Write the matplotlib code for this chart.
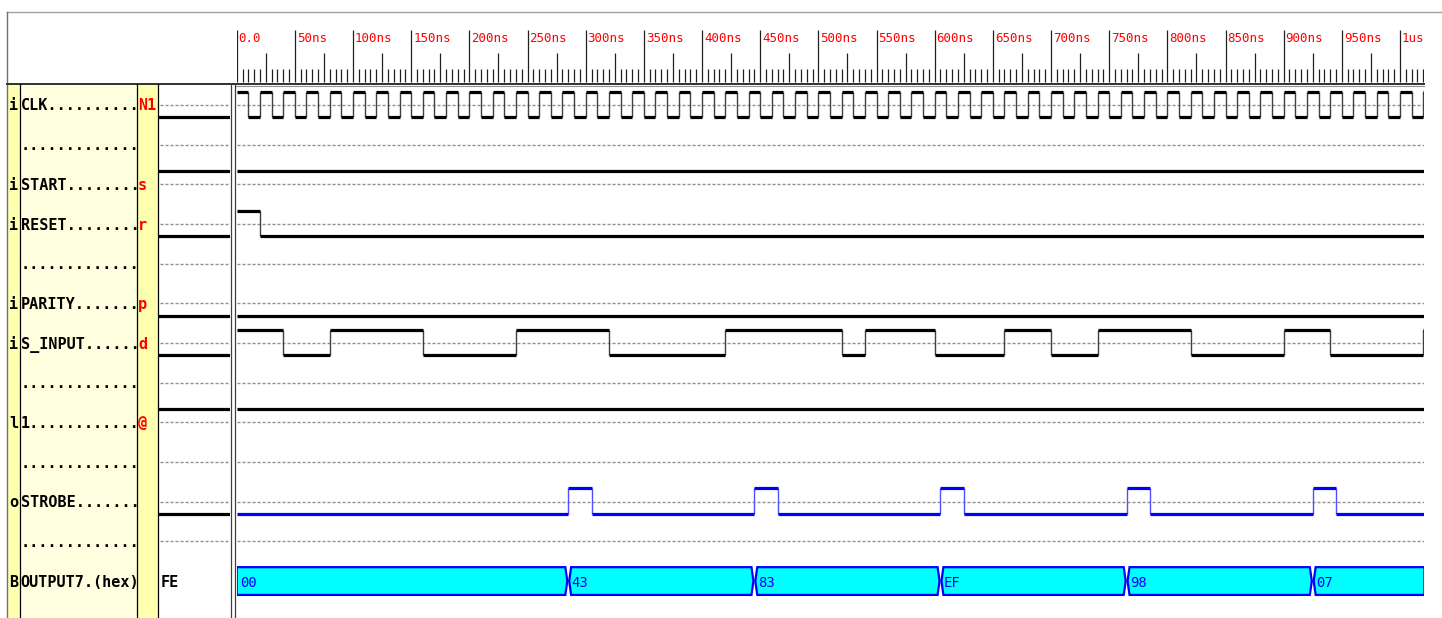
import matplotlib
matplotlib.use("Agg")
import matplotlib.pyplot as plt
from matplotlib.patches import Rectangle, Polygon

# ---------------- waveform data ----------------
row_types = ['i', '', 'i', 'i', '', 'i', 'i', '', 'l', '', 'o', '', 'B']
row_names = ['CLK', '', 'START', 'RESET', '', 'PARITY', 'S_INPUT', '', '1', '', 'STROBE', '', 'OUTPUT7.(hex)']
row_keys = ['N1', '', 's', 'r', '', 'p', 'd', '', '@', '', '', '', '']

# value at the cursor (left value column)
cursor_rows = [0, 2, 3, 5, 6, 8, 10]
cursor_vals = [0, 1, 0, 0, 0, 1, 0]
cursor_bus = 'FE'

# transitions in ns, and the level from each one on
clk_t = [0, 10, 20, 30, 40, 50, 60, 70, 80, 90, 100, 110, 120, 130, 140, 150, 160, 170, 180, 190,
         200, 210, 220, 230, 240, 250, 260, 270, 280, 290, 300, 310, 320, 330, 340, 350, 360, 370,
         380, 390, 400, 410, 420, 430, 440, 450, 460, 470, 480, 490, 500, 510, 520, 530, 540, 550,
         560, 570, 580, 590, 600, 610, 620, 630, 640, 650, 660, 670, 680, 690, 700, 710, 720, 730,
         740, 750, 760, 770, 780, 790, 800, 810, 820, 830, 840, 850, 860, 870, 880, 890, 900, 910,
         920, 930, 940, 950, 960, 970, 980, 990, 1000, 1010, 1020]
clk_v = [1, 0] * 51 + [1]

start_t = [0]
start_v = [1]
reset_t = [0, 20]
reset_v = [1, 0]
parity_t = [0]
parity_v = [0]
sin_t = [0, 40, 80, 160, 240, 320, 420, 520, 540, 600, 660, 700, 740, 820, 900, 940, 1020]
sin_v = [1, 0, 1, 0, 1, 0, 1, 0, 1, 0, 1, 0, 1, 0, 1, 0, 1]
l1_t = [0]
l1_v = [1]
strobe_t = [0, 285, 305, 445, 465, 605, 625, 765, 785, 925, 945]
strobe_v = [0, 1, 0, 1, 0, 1, 0, 1, 0, 1, 0]
bus_t = [0, 285, 445, 605, 765, 925]
bus_v = ['00', '43', '83', 'EF', '98', '07']

ruler_labels = ['0.0', '50ns', '100ns', '150ns', '200ns', '250ns', '300ns', '350ns', '400ns',
                '450ns', '500ns', '550ns', '600ns', '650ns', '700ns', '750ns', '800ns', '850ns',
                '900ns', '950ns', '1us']

# ---------------- layout ----------------
W, H = 1442, 618
T_END = 1021
ROW0, PITCH = 105, 39.67
HI, LO = -0.34, 0.31
MONO = 'DejaVu Sans Mono'

fig = plt.figure(figsize=(W / 100, H / 100), dpi=100)


def px_axes(x0, y0, x1, y1):
    a = fig.add_axes([x0 / W, 1 - y1 / H, (x1 - x0) / W, (y1 - y0) / H])
    a.set_axis_off()
    a.patch.set_alpha(0)
    return a


# frame in pixel units
frame = fig.add_axes([0, 0, 1, 1])
frame.set_xlim(0, W)
frame.set_ylim(H, 0)
frame.set_axis_off()

frame.add_patch(Rectangle((7, 84), 13, H - 84, fc='#FFFFB0', ec='none'))
frame.add_patch(Rectangle((20, 84), 117, H - 84, fc='#FFFFE0', ec='none'))
frame.add_patch(Rectangle((137, 84), 21, H - 84, fc='#FFFFB0', ec='none'))
frame.plot([7, W], [12, 12], color='#A0A0A0', lw=1)
frame.plot([7, 7], [12, H], color='#707070', lw=1)
frame.plot([7, 1424], [83.5, 83.5], color='#303030', lw=1.4)
frame.plot([236, 1424], [85.5, 85.5], color='#909090', lw=0.8)
for x in [20, 137, 158]:
    frame.plot([x, x], [84, H], color='black', lw=0.9)
for x in [230.7, 235.3]:
    frame.plot([x, x], [84, H], color='#404040', lw=0.9)

for i in range(len(row_names)):
    y = ROW0 + PITCH * i
    frame.text(13.5, y + 5.5, row_types[i], ha='center', va='baseline',
               family=MONO, fontsize=10.9, fontweight='bold', color='black')
    frame.text(20.5, y + 5.5, row_names[i].ljust(13, '.'), ha='left', va='baseline',
               family=MONO, fontsize=10.9, fontweight='bold', color='black')
    frame.text(138, y + 5.5, row_keys[i], ha='left', va='baseline',
               family=MONO, fontsize=10.9, fontweight='bold', color='#FF0000')

# ruler
ruler = px_axes(236.7, 12, 236.7 + T_END * 1.1633, 86)
ruler.set_xlim(0, T_END)
ruler.set_ylim(86, 12)
minor = [t for t in range(0, T_END, 5) if t % 25]
medium = [t for t in range(25, T_END, 50)]
major = [t for t in range(0, T_END, 50)]
ruler.vlines(minor, 69, 82, colors='#202020', lw=0.9)
ruler.vlines(medium, 53, 82, colors='#202020', lw=0.9)
ruler.vlines(major, 30, 82, colors='#202020', lw=0.9)
for t, lab in zip(major, ruler_labels):
    ruler.text(t + 1.7, 39, lab, ha='left', va='center', family=MONO,
               fontsize=9, color='#FF0000')

# value column
rows = [ROW0 + PITCH * i for i in range(13)]
ylim = ((H - ROW0) / PITCH, (86 - ROW0) / PITCH)
val = px_axes(158, 86, 230, H)
val.set_xlim(0, 1)
val.set_ylim(*ylim)
val.hlines(range(12), 0.03, 0.97, colors='#909090', linestyles=(0, (2.2, 1.4)), lw=1)
val.hlines([r + (HI if v else LO) for r, v in zip(cursor_rows, cursor_vals)], 0, 1,
           colors='black', lw=2.3)
val.text(0.03, 12 + 0.14, cursor_bus, ha='left', va='baseline', family=MONO,
         fontsize=10.9, fontweight='bold', color='black')

# waveforms
wave = px_axes(236.7, 86, 236.7 + T_END * 1.1633, H)
wave.set_xlim(0, T_END)
wave.set_ylim(*ylim)
wave.hlines(range(12), 0, T_END, colors='#909090', linestyles=(0, (2.2, 1.4)), lw=1)


def draw_signal(row, times, values, color='black', edge='#404040'):
    ends = times[1:] + [T_END]
    ys = [row + (HI if v else LO) for v in values]
    wave.vlines(times[1:], row + HI, row + LO, colors=edge, lw=1.0)
    wave.hlines(ys, times, ends, colors=color, lw=2.3)


draw_signal(0, clk_t, clk_v)
draw_signal(2, start_t, start_v)
draw_signal(3, reset_t, reset_v)
draw_signal(5, parity_t, parity_v)
draw_signal(6, sin_t, sin_v)
draw_signal(8, l1_t, l1_v)
draw_signal(10, strobe_t, strobe_v, color='#0000FF', edge='#5050FF')

# bus
d = 2.5
bh = 0.35
bus_end = bus_t[1:] + [T_END]
for k, (t0, t1, lab) in enumerate(zip(bus_t, bus_end, bus_v)):
    l = 0 if k == 0 else d
    r = 0 if k == len(bus_t) - 1 else d
    pts = [(t0, 12), (t0 + l, 12 - bh), (t1 - r, 12 - bh), (t1, 12),
           (t1 - r, 12 + bh), (t0 + l, 12 + bh)]
    if k > 0:
        pts = [(t0 + 0.8, 12)] + pts[1:]
    if k < len(bus_t) - 1:
        pts[3] = (t1 - 0.8, 12)
    wave.add_patch(Polygon(pts, closed=True, fc='#00FFFF', ec='#0000FF', lw=1.6))
    wave.text(t0 + 3, 12 + 0.14, lab, ha='left', va='baseline', family=MONO,
              fontsize=10, color='#0000FF')

fig.savefig('out.png', dpi=100)
